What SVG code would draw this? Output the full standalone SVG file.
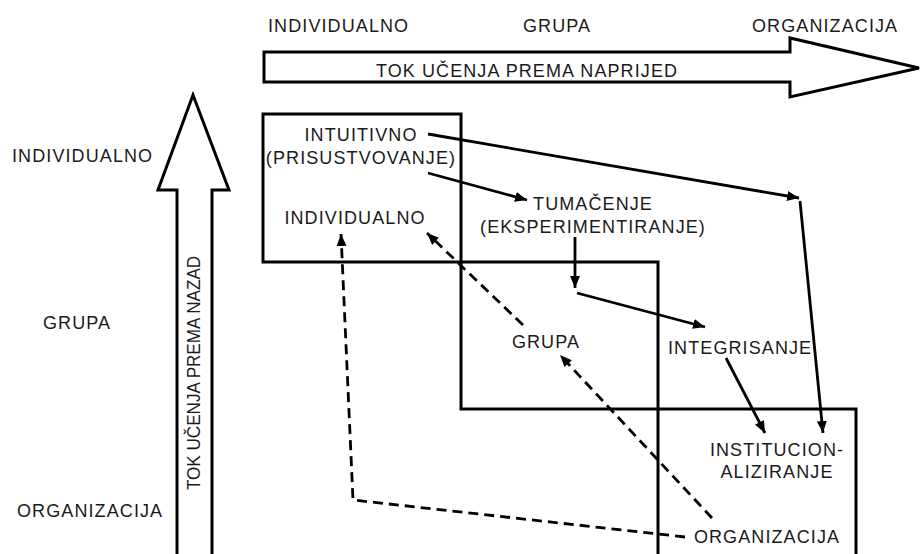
<svg xmlns="http://www.w3.org/2000/svg" width="920" height="554" viewBox="0 0 920 554">
<defs>
<style>
text{font-family:"Liberation Sans",Arial,sans-serif;font-size:18px;letter-spacing:1.1px;fill:#1a1a1a}
.m{text-anchor:middle}
.box{fill:none;stroke:#000;stroke-width:3}
.big{fill:#fff;stroke:#000;stroke-width:3;stroke-linejoin:miter}
.c{fill:none;stroke:#000;stroke-width:2.8}
.d{fill:none;stroke:#000;stroke-width:2.8;stroke-dasharray:10 6}
</style>
<marker id="ah" markerUnits="userSpaceOnUse" markerWidth="13" markerHeight="11" refX="12" refY="5" orient="auto">
<path d="M0,0 L12,5 L0,10 z" fill="#000"/>
</marker>
</defs>
<rect width="920" height="554" fill="#fff"/>

<g id="axis-forward">
<polygon class="big" points="264,52 790,52 790,38 919,68 790,97 790,82 264,82"/>
<text class="m" x="527" y="77">TOK UČENJA PREMA NAPRIJED</text>
</g>
<g id="axis-back">
<polygon class="big" points="177,560 177,190 158,190 193,95 229,190 212,190 212,560"/>
<text class="m" transform="translate(200,373) rotate(-90) scale(0.9,1)" style="font-size:19px;letter-spacing:0">TOK UČENJA PREMA NAZAD</text>
</g>

<g id="top-labels">
<text x="268" y="32">INDIVIDUALNO</text>
<text x="523" y="32">GRUPA</text>
<text x="752" y="32">ORGANIZACIJA</text>
</g>
<g id="left-labels">
<text x="12" y="162">INDIVIDUALNO</text>
<text x="43" y="329">GRUPA</text>
<text x="17" y="517">ORGANIZACIJA</text>
</g>

<g id="box-individual"><rect class="box" x="263" y="114" width="198" height="148"/></g>
<g id="box-group"><rect class="box" x="461" y="262" width="197" height="147"/></g>
<g id="box-organization"><rect class="box" x="658" y="409" width="198" height="160"/></g>

<g id="n-intuitivno">
<text class="m" x="361" y="141">INTUITIVNO</text>
<text class="m" x="361" y="164">(PRISUSTVOVANJE)</text>
</g>
<g id="n-individualno"><text class="m" x="355" y="224">INDIVIDUALNO</text></g>
<g id="n-tumacenje">
<text class="m" x="593" y="210">TUMAČENJE</text>
<text class="m" x="593" y="233">(EKSPERIMENTIRANJE)</text>
</g>
<g id="n-grupa"><text class="m" x="546" y="348">GRUPA</text></g>
<g id="n-integrisanje"><text x="668" y="354">INTEGRISANJE</text></g>
<g id="n-institucionaliziranje">
<text class="m" x="777" y="456">INSTITUCION-</text>
<text class="m" x="777" y="478">ALIZIRANJE</text>
</g>
<g id="n-organizacija"><text class="m" x="767" y="543">ORGANIZACIJA</text></g>

<g id="connectors">
<line class="c" x1="428" y1="134" x2="799" y2="198" marker-end="url(#ah)"/>
<line class="c" x1="800" y1="201" x2="823" y2="433" marker-end="url(#ah)"/>
<line class="c" x1="428" y1="173" x2="527" y2="200" marker-end="url(#ah)"/>
<line class="c" x1="575" y1="237" x2="575" y2="288" marker-end="url(#ah)"/>
<line class="c" x1="577" y1="293" x2="705" y2="327" marker-end="url(#ah)"/>
<line class="c" x1="726" y1="358" x2="765" y2="433" marker-end="url(#ah)"/>
<line class="d" x1="523" y1="325" x2="427" y2="233" marker-end="url(#ah)"/>
<line class="d" x1="712" y1="518" x2="560" y2="355" marker-end="url(#ah)"/>
<polyline class="d" points="685,537 353,500 341,234" marker-end="url(#ah)"/>
</g>
</svg>
